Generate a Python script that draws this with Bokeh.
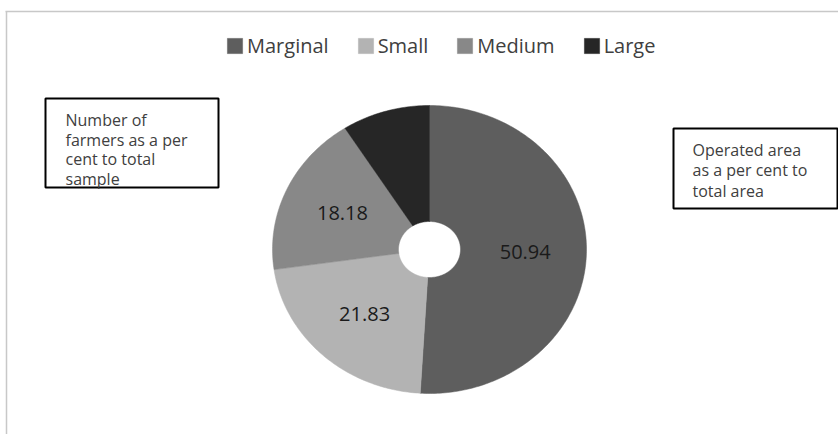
import numpy as np
from bokeh.plotting import figure
from bokeh.models import ColumnDataSource, Range1d, Legend, LegendItem
from bokeh.core.properties import value
from bokeh.embed import file_html
from bokeh.resources import INLINE

# ---- data ----
categories = ["Marginal", "Small", "Medium", "Large"]
shares = [50.94, 21.83, 18.18, 9.05]
slice_labels = ["50.94", "21.83", "18.18", ""]
colors = ["#5e5e5e", "#b3b3b3", "#888888", "#262626"]
left_note = ["Number of", "farmers as a per", "cent to total", "sample"]
right_note = ["Operated area", "as a per cent to", "total area"]

W, H = 838, 434


def Y(py):
    return H - py


CX, CY = 429, Y(249)
RX, RY = 157, 144
HX, HY = 31, 28
LABEL_R = 0.61
FONT = "Open Sans"

p = figure(width=W, height=H, x_range=Range1d(0, W), y_range=Range1d(0, H),
           output_backend="svg", toolbar_location=None,
           x_axis_type=None, y_axis_type=None, min_border=0,
           outline_line_color=None, background_fill_color="white",
           border_fill_color="white")
p.grid.visible = False

# outer frame lines of the chart area
p.multi_line(xs=[[5, W], [6, 6]], ys=[[Y(11), Y(11)], [Y(11), Y(H)]],
             line_color="#c8c8c8", line_width=1.5)

# donut slices (ellipse, clockwise from 12 o'clock)
total = float(sum(shares))
fr = np.cumsum([0.0] + shares) / total
xs, ys = [], []
for a0, a1 in zip(fr[:-1], fr[1:]):
    n = max(int((a1 - a0) * 400), 6)
    t = np.linspace(a0, a1, n) * 2 * np.pi
    ox = CX + RX * np.sin(t)
    oy = CY + RY * np.cos(t)
    ix = CX + HX * np.sin(t[::-1])
    iy = CY + HY * np.cos(t[::-1])
    xs.append(list(np.concatenate([ox, ix])))
    ys.append(list(np.concatenate([oy, iy])))
src = ColumnDataSource(dict(xs=xs, ys=ys, color=colors, cat=categories))
r = p.patches("xs", "ys", source=src, fill_color="color", line_color="color",
              line_width=0.5)

mid = (fr[:-1] + fr[1:]) / 2 * 2 * np.pi
lx = CX + LABEL_R * RX * np.sin(mid)
ly = CY + LABEL_R * RY * np.cos(mid)
p.text(x=list(lx), y=list(ly), text=slice_labels, text_align="center",
       text_baseline="middle", text_font=value(FONT), text_font_size="20px",
       text_color="#1a1a1a")

# note boxes
p.quad(left=[45, 673], right=[218, 837], top=[Y(98), Y(128)],
       bottom=[Y(187), Y(208)], fill_color="white", line_color="black",
       line_width=2)
p.text(x=[65] * len(left_note), y=[Y(119.5 + 19.5 * i) for i in range(len(left_note))],
       text=left_note, text_align="left", text_baseline="middle",
       text_font=value(FONT), text_font_size="16px", text_color="#404040")
p.text(x=[692] * len(right_note), y=[Y(149 + 20.5 * i) for i in range(len(right_note))],
       text=right_note, text_align="left", text_baseline="middle",
       text_font=value(FONT), text_font_size="16px", text_color="#404040")

# legend
legend = Legend(items=[LegendItem(label=c, renderers=[r], index=i)
                       for i, c in enumerate(categories)],
                orientation="horizontal", location=(225, 375.5),
                padding=0, margin=0, spacing=27, label_standoff=3,
                glyph_width=19, glyph_height=19,
                label_text_font=FONT, label_text_font_size="20px",
                label_text_color="#404040", border_line_alpha=0,
                background_fill_alpha=0)
p.add_layout(legend)

open("out.html", "w").write(file_html(p, INLINE))
